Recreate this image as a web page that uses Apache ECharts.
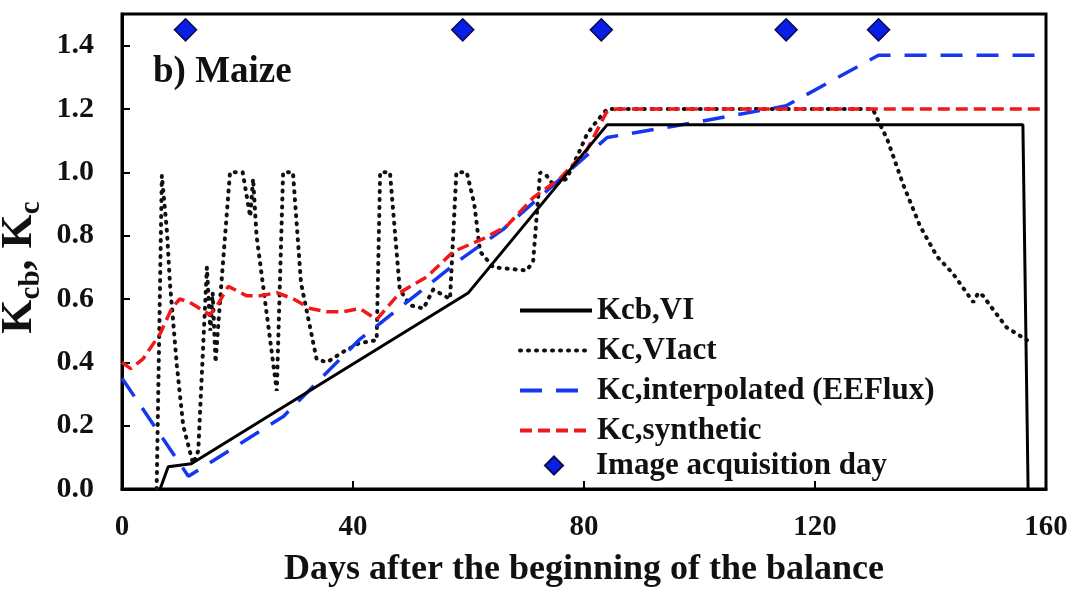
<!DOCTYPE html>
<html>
<head>
<meta charset="utf-8">
<script src="https://cdn.jsdelivr.net/npm/echarts@6/dist/echarts.min.js"></script>
<style>
html,body{margin:0;padding:0;background:#fff;}
#chart{width:1074px;height:589px;}
</style>
</head>
<body>
<div id="chart"></div>
<script>
// ---- data ----
const xTicks = [0, 40, 80, 120, 160];
const yTicks = [0, 0.2, 0.4, 0.6, 0.8, 1.0, 1.2, 1.4];

const kcbDays = [6.6, 8, 12, 60, 84, 156, 156.9];
const kcbVals = [0, 0.07, 0.08, 0.62, 1.15, 1.15, 0];

const actDays = [6.0, 6.9, 7.8, 8.3, 9.5, 10.6, 12.3, 13.2, 14.7, 15.3, 15.7, 16.2, 17.0, 18.7, 20.9, 22.2, 22.7, 23.3, 26.8, 27.9, 29.6, 31.0, 33.7, 35.5, 38, 41, 44.1, 44.7, 46.4, 48.1, 49.9, 52.2, 53.9, 56.8, 57.9, 59.7, 61, 62, 64.3, 70.1, 71.2, 72.4, 73.5, 74.7, 77, 79.3, 80.5, 81.7, 84, 130, 131.3, 132.5, 135.3, 138.2, 141.1, 143.9, 147.4, 148.3, 149.1, 150.3, 153.2, 156.7];
const actVals = [0, 0.99, 0.81, 0.65, 0.39, 0.20, 0.08, 0.12, 0.70, 0.50, 0.62, 0.40, 0.60, 1.00, 1.00, 0.86, 0.98, 0.80, 0.31, 1.00, 1.00, 0.65, 0.41, 0.40, 0.43, 0.46, 0.47, 1.00, 1.00, 0.63, 0.58, 0.57, 0.63, 0.60, 1.00, 1.00, 0.90, 0.75, 0.70, 0.69, 0.72, 1.00, 0.99, 0.96, 0.98, 1.07, 1.12, 1.15, 1.20, 1.20, 1.15, 1.105, 0.96, 0.83, 0.735, 0.68, 0.59, 0.62, 0.61, 0.58, 0.51, 0.47];

const interpDays = [0, 11.5, 28, 41, 59, 66, 84, 100, 115, 131, 160];
const interpVals = [0.35, 0.04, 0.23, 0.47, 0.73, 0.82, 1.11, 1.16, 1.21, 1.37, 1.37];

const synDays = [0, 1.5, 3.6, 6.6, 8.6, 10, 11.7, 15.2, 16.5, 18.4, 21.6, 23.9, 26.8, 29.7, 32.6, 35.5, 38.3, 41.2, 44.1, 48.1, 52.8, 57.4, 62.5, 66.6, 71.2, 75.8, 80.5, 83.9, 85.6, 160];
const synVals = [0.40, 0.38, 0.41, 0.49, 0.57, 0.60, 0.59, 0.55, 0.58, 0.64, 0.61, 0.61, 0.62, 0.60, 0.57, 0.56, 0.56, 0.57, 0.535, 0.62, 0.67, 0.75, 0.79, 0.83, 0.92, 0.98, 1.07, 1.19, 1.20, 1.20];

const imgDays = [11, 59, 83, 115, 131];
const imgVals = [1.45, 1.45, 1.45, 1.45, 1.45];

const seriesNames = ['Kcb,VI', 'Kc,VIact', 'Kc,interpolated (EEFlux)', 'Kc,synthetic', 'Image acquisition day'];
const panelLabel = 'b) Maize';
const xTitle = 'Days after the beginning of the balance';

// ---- chart ----
const pairs = (xs, ys) => xs.map((x, i) => [x, ys[i]]);
const FF = '"Liberation Serif", "Times New Roman", serif';

const chart = echarts.init(document.getElementById('chart'), null, {renderer: 'canvas'});
chart.setOption({
  animation: false,
  backgroundColor: '#fff',
  title: {
    text: panelLabel, left: 153, top: 54, padding: 0,
    textStyle: {fontFamily: FF, fontWeight: 'bold', fontSize: 37, color: '#111'}
  },
  grid: {left: 122, right: 28, top: 14, bottom: 100, containLabel: false, outerBoundsMode: 'none',
    show: true, borderColor: '#000', borderWidth: 3, backgroundColor: 'transparent'},
  legend: [{
    data: seriesNames.slice(0, 4),
    orient: 'vertical', left: 518, top: 295, padding: 0,
    itemWidth: 72, itemHeight: 14, itemGap: 9,
    itemStyle: {opacity: 0},
    lineStyle: {width: 4},
    textStyle: {fontFamily: FF, fontWeight: 'bold', fontSize: 31, lineHeight: 30, color: '#111'}
  }, {
    data: [seriesNames[4]],
    orient: 'vertical', left: 544, top: 450, padding: 0,
    itemWidth: 18, itemHeight: 18,
    itemStyle: {opacity: 1},
    textStyle: {fontFamily: FF, fontWeight: 'bold', fontSize: 31, lineHeight: 30, color: '#111', padding: [0, 0, 0, 28]}
  }],
  xAxis: {
    type: 'value', min: 0, max: 160, interval: 40,
    name: xTitle, nameLocation: 'middle', nameGap: 63,
    nameTextStyle: {fontFamily: FF, fontWeight: 'bold', fontSize: 36, color: '#111'},
    axisLine: {show: true, onZero: false, lineStyle: {color: '#000', width: 3}},
    axisTick: {show: true, inside: true, length: 8, lineStyle: {color: '#000', width: 2}},
    axisLabel: {margin: 24, fontFamily: FF, fontWeight: 'bold', fontSize: 29, color: '#111',
      formatter: v => xTicks.includes(v) ? String(v) : ''},
    splitLine: {show: false}
  },
  yAxis: {
    type: 'value', min: 0, max: 1.5, interval: 0.2,
    name: '{k|K}{s|cb}{k|, K}{s|c}', nameLocation: 'middle', nameGap: 78,
    nameTextStyle: {
      padding: [0, 32, 0, 0],
      rich: {
        k: {fontFamily: FF, fontWeight: 'bold', fontSize: 44, color: '#111', verticalAlign: 'top', lineHeight: 46},
        s: {fontFamily: FF, fontWeight: 'bold', fontSize: 29, color: '#111', verticalAlign: 'top', lineHeight: 29, padding: [19, 0, 0, 0]}
      }
    },
    axisLine: {show: true, lineStyle: {color: '#000', width: 3}},
    axisTick: {show: true, inside: true, length: 8, lineStyle: {color: '#000', width: 2}},
    axisLabel: {margin: 28, showMaxLabel: false, fontFamily: FF, fontWeight: 'bold', fontSize: 30, color: '#111',
      formatter: v => {
        const t = yTicks.find(y => Math.abs(y - v) < 1e-6);
        return t === undefined ? '' : t.toFixed(1);
      }},
    splitLine: {show: false}
  },
  series: [
    {
      name: seriesNames[1], type: 'line', symbol: 'none', z: 2,
      data: pairs(actDays, actVals),
      lineStyle: {color: '#111', width: 4, type: [1, 7], cap: 'round'},
      itemStyle: {color: '#111'}
    },
    {
      name: seriesNames[2], type: 'line', symbol: 'none', z: 3,
      data: pairs(interpDays, interpVals),
      lineStyle: {color: '#1637f0', width: 3.5, type: [22, 14]},
      itemStyle: {color: '#1637f0'}
    },
    {
      name: seriesNames[3], type: 'line', symbol: 'none', z: 4,
      data: pairs(synDays, synVals),
      lineStyle: {color: '#f01818', width: 3.5, type: [12, 6]},
      itemStyle: {color: '#f01818'}
    },
    {
      name: seriesNames[0], type: 'line', symbol: 'none', z: 5,
      data: pairs(kcbDays, kcbVals),
      lineStyle: {color: '#000', width: 3},
      itemStyle: {color: '#000'}
    },
    {
      name: seriesNames[4], type: 'scatter', symbol: 'diamond', symbolSize: 22, z: 6,
      data: pairs(imgDays, imgVals),
      itemStyle: {color: '#0a1fe6', borderColor: '#0a0a50', borderWidth: 1.5, opacity: 1}
    }
  ]
});
</script>
</body>
</html>
